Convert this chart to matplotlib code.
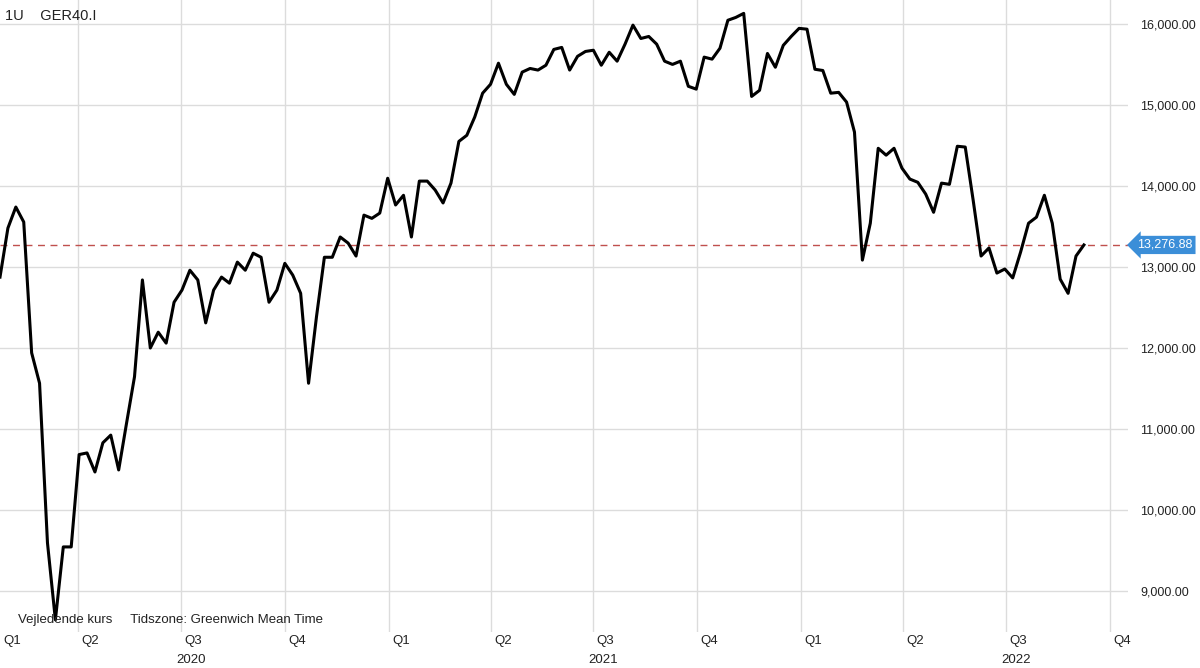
import matplotlib.pyplot as plt
import matplotlib.transforms as mtransforms
import pandas as pd

plt.rcParams['font.family'] = ['Liberation Sans', 'DejaVu Sans']

# weekly closes, GER40
values = [
    12880, 13485, 13745, 13560, 11945, 11570, 9600, 8650, 9550, 9550,
    10690, 10710, 10475, 10835, 10930, 10500, 11080, 11650, 12845, 12005,
    12200, 12065, 12570, 12720, 12965, 12845, 12315, 12720, 12880, 12805,
    13065, 12965, 13175, 13125, 12570, 12720, 13050, 12905, 12680, 11570,
    12390, 13125, 13125, 13375, 13300, 13140, 13645, 13605, 13670, 14100,
    13770, 13890, 13375, 14065, 14065, 13955, 13795, 14040, 14555, 14630,
    14855, 15150, 15260, 15520, 15260, 15135, 15410, 15455, 15435, 15495,
    15690, 15715, 15435, 15605, 15665, 15680, 15495, 15655, 15545, 15755,
    15990, 15825, 15850, 15755, 15545, 15505, 15545, 15235, 15200, 15595,
    15570, 15705, 16050, 16085, 16135, 15110, 15185, 15640, 15470, 15740,
    15850, 15950, 15940, 15445, 15430, 15150, 15160, 15040, 14670, 13090,
    13545, 14470, 14385, 14470, 14225, 14090, 14050, 13905, 13680, 14040,
    14025, 14495, 14485, 13830, 13140, 13240, 12930, 12980, 12870, 13190,
    13545, 13620, 13890, 13545, 12855, 12680, 13140, 13276.88,
]
dates = pd.date_range('2020-01-23', periods=len(values), freq='7D')
last_price = 13276.88

quarters = pd.date_range('2020-01-01', '2022-10-01', freq='QS')
quarter_labels = ['Q%d' % q.quarter for q in quarters]
years = ['2020', '2021', '2022']

fig = plt.figure(figsize=(12, 6.68), dpi=100)
ax = fig.add_axes([0, 36 / 668, 1128 / 1200, 632 / 668])

ax.plot(dates, values, color='black', lw=2.2, zorder=3)
ax.axhline(last_price, color='#c0504d', lw=1, ls=(0, (5, 4)), zorder=2)

x0 = pd.Timestamp('2020-01-23')
x1 = pd.Timestamp('2022-10-17')
ax.set_xlim(x0, x1)
ax.set_ylim(8500, 16300)

for q in quarters:
    ax.axvline(q, color='#dcdcdc', lw=1, zorder=1)
for v in range(9000, 16001, 1000):
    ax.axhline(v, color='#dcdcdc', lw=1, zorder=1)

ax.set_xticks([])
ax.yaxis.tick_right()
ax.set_yticks(range(9000, 16001, 1000))
ax.set_yticklabels(['{:,.2f}'.format(v) for v in range(9000, 16001, 1000)])
ax.tick_params(axis='y', length=0, pad=9, labelsize=9, labelcolor='#222222')
for s in ax.spines.values():
    s.set_visible(False)

# quarter and year labels under the plot
trans = mtransforms.blended_transform_factory(ax.transData, fig.transFigure)
for q, lab in zip(quarters, quarter_labels):
    xq = max(q, x0) + pd.Timedelta(days=3)
    ax.text(xq, 1 - 641 / 668, lab, transform=trans, ha='left', va='center',
            fontsize=9.5, color='#222222')
for y in years:
    ax.text(pd.Timestamp(y + '-07-10'), 1 - 660 / 668, y, transform=trans,
            ha='center', va='center', fontsize=9.5, color='#222222')

ax.text(0.004, 0.985, '1U    GER40.I', transform=ax.transAxes, ha='left',
        va='top', fontsize=10.5, color='#222222')
ax.text(0.016, 0.01, 'Vejledende kurs     Tidszone: Greenwich Mean Time',
        transform=ax.transAxes, ha='left', va='bottom', fontsize=9.5,
        color='#222222')

# price tag on the right axis
ytrans = mtransforms.blended_transform_factory(ax.transAxes, ax.transData)
ax.text(1.008, last_price, '{:,.2f}'.format(last_price), transform=ytrans,
        ha='left', va='center', fontsize=9, color='white', clip_on=False,
        bbox=dict(boxstyle='larrow,pad=0.25', fc='#3b8ed8', ec='none'))

fig.savefig('out.png', dpi=100)
